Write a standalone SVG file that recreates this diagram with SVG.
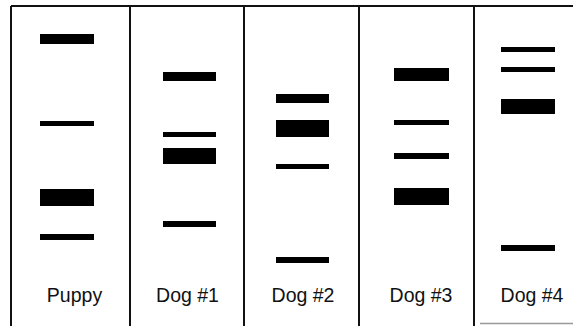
<svg xmlns="http://www.w3.org/2000/svg" width="573" height="326" viewBox="0 0 573 326">
<style>
.frame{stroke:#111;stroke-width:2;fill:none}
.band{fill:#000}
.lbl{font-family:"Liberation Sans",Arial,sans-serif;font-size:19.5px;fill:#111;text-anchor:middle}
</style>
<rect width="573" height="326" fill="#fff"/>
<g id="frame">
<line class="frame" x1="11" y1="6" x2="573" y2="6"/>
<line class="frame" x1="11" y1="6" x2="11" y2="326"/>
<line class="frame" x1="130" y1="6" x2="130" y2="326"/>
<line class="frame" x1="244" y1="6" x2="244" y2="326"/>
<line class="frame" x1="359" y1="6" x2="359" y2="326"/>
<line class="frame" x1="474" y1="6" x2="474" y2="326"/>
<line x1="480" y1="323.5" x2="573" y2="323.5" stroke="#999" stroke-width="1.5"/>
</g>
<g id="puppy">
<rect class="band" x="40" y="34" width="54" height="10"/>
<rect class="band" x="40" y="121" width="54" height="5"/>
<rect class="band" x="40" y="189" width="54" height="17"/>
<rect class="band" x="40" y="234" width="54" height="6"/>
<text class="lbl" x="74.5" y="301.5">Puppy</text>
</g>
<g id="dog1">
<rect class="band" x="163" y="72" width="53" height="9"/>
<rect class="band" x="163" y="132" width="53" height="5"/>
<rect class="band" x="163" y="148" width="53" height="16"/>
<rect class="band" x="163" y="221" width="53" height="6"/>
<text class="lbl" x="187.5" y="301.5">Dog #1</text>
</g>
<g id="dog2">
<rect class="band" x="276" y="94" width="53" height="9"/>
<rect class="band" x="276" y="120" width="53" height="17"/>
<rect class="band" x="276" y="164" width="53" height="5"/>
<rect class="band" x="276" y="257" width="53" height="6"/>
<text class="lbl" x="303" y="301.5">Dog #2</text>
</g>
<g id="dog3">
<rect class="band" x="394" y="68" width="55" height="13"/>
<rect class="band" x="394" y="120" width="55" height="5"/>
<rect class="band" x="394" y="153" width="55" height="6"/>
<rect class="band" x="394" y="188" width="55" height="17"/>
<text class="lbl" x="421" y="301.5">Dog #3</text>
</g>
<g id="dog4">
<rect class="band" x="501" y="47" width="54" height="5"/>
<rect class="band" x="501" y="67" width="54" height="5"/>
<rect class="band" x="501" y="99" width="54" height="15"/>
<rect class="band" x="501" y="245" width="54" height="6"/>
<text class="lbl" x="532" y="301.5">Dog #4</text>
</g>
</svg>
